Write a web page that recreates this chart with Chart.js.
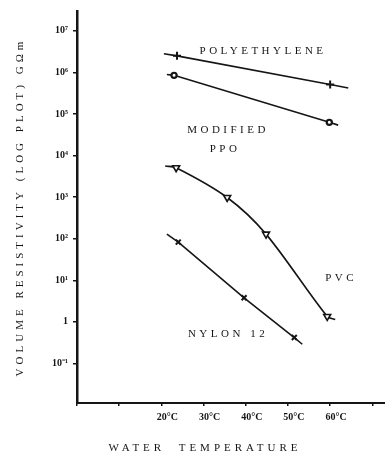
<!DOCTYPE html>
<html>
<head>
<meta charset="utf-8">
<script src="https://cdn.jsdelivr.net/npm/chart.js@4"></script>
<style>
  html, body { margin: 0; padding: 0; background: #fff; }
  #wrap { width: 385px; height: 454px; }
</style>
</head>
<body>
<div id="wrap"><canvas id="resistivity" width="385" height="454"></canvas></div>
<script>
// water temperature (deg C) and volume resistivity (G ohm m)
// first and last entries of each series are the line ends past the markers
const peTemps = [20.6, 23.7, 60.0, 64.3]
const peValues = [2.8e6, 2.5e6, 5.1e5, 4.2e5]

const ppoTemps = [21.3, 23.0, 59.8, 61.9]
const ppoValues = [8.9e5, 8.5e5, 6.3e4, 5.4e4]

const pvcTemps = [20.9, 23.5, 35.6, 44.8, 59.3, 61.2]
const pvcValues = [5600, 5100, 980, 129, 1.35, 1.14]

const nylonTemps = [21.3, 24.0, 39.6, 51.5, 53.4]
const nylonValues = [129, 83, 3.8, 0.42, 0.29]

const xTickValues = [20, 30, 40, 50, 60]
const xTickLabels = ['20°C', '30°C', '40°C', '50°C', '60°C']
const yTickValues = [0.1, 1, 10, 100, 1e3, 1e4, 1e5, 1e6, 1e7]
const yTickLabels = ['10⁻¹', '1', '10¹', '10²', '10³', '10⁴', '10⁵', '10⁶', '10⁷']

const seriesNames = ['POLYETHYLENE', 'MODIFIED', 'PPO', 'PVC', 'NYLON 12']
const nameTemps = [44.1, 35.8, 35.1, 62.6, 35.8]
const nameValues = [3.2e6, 4.1e4, 1.45e4, 11.5, 0.52]

const ink = '#151515'

const toPoints = (temps, values) => temps.map((t, i) => ({x: t, y: values[i]}))

const makeSet = (temps, values, style, size, opts) => {
    const last = temps.length - 1
    return Object.assign({
        data: toPoints(temps, values),
        showLine: true,
        borderColor: ink,
        borderWidth: 1.6,
        pointStyle: style,
        pointRadius: temps.map((t, i) => (i === 0 || i === last) ? 0 : size),
        pointBorderColor: ink,
        pointBackgroundColor: ink,
        pointBorderWidth: 2,
        tension: 0
    }, opts || {})
}

// axis titles and curve names, drawn spaced out like the typewritten original
const typedText = {
    id: 'typedText',
    afterDraw(chart) {
        const ctx = chart.ctx
        const xs = chart.scales.x
        const ys = chart.scales.y
        const area = chart.chartArea
        ctx.save()
        ctx.fillStyle = ink
        ctx.font = '11px "Liberation Serif"'
        ctx.letterSpacing = '3.5px'
        ctx.textAlign = 'center'
        ctx.textBaseline = 'middle'
        seriesNames.forEach((name, i) => {
            ctx.fillText(name, xs.getPixelForValue(nameTemps[i]), ys.getPixelForValue(nameValues[i]))
        })
        ctx.letterSpacing = '4px'
        ctx.fillText('WATER  TEMPERATURE', 205, 448)
        ctx.translate(20, (area.top + area.bottom) / 2)
        ctx.rotate(-Math.PI / 2)
        ctx.letterSpacing = '4px'
        ctx.fillText('VOLUME RESISTIVITY (LOG PLOT) GΩm', 0, 0)
        ctx.restore()
    }
}

const ctx = document.querySelector('#resistivity')
const resistivityChart = new Chart(ctx, {
    type: 'scatter',
    data: {
        datasets: [
            makeSet(peTemps, peValues, 'cross', 4),
            makeSet(ppoTemps, ppoValues, 'circle', 2.6, {pointBackgroundColor: '#fff', pointBorderWidth: 2.2}),
            makeSet(pvcTemps, pvcValues, 'triangle', 4, {
                pointRotation: 180,
                pointBackgroundColor: '#fff',
                pointBorderWidth: 1.6,
                tension: 0.3
            }),
            makeSet(nylonTemps, nylonValues, 'crossRot', 3.5)
        ]
    },
    options: {
        responsive: false,
        animation: false,
        layout: {padding: {top: 8, left: 0, right: 0, bottom: 0}},
        plugins: {
            legend: {display: false},
            tooltip: {enabled: false}
        },
        scales: {
            x: {
                type: 'linear',
                min: 0,
                max: 73,
                afterFit: scale => { scale.height = 51 },
                afterBuildTicks: scale => {
                    scale.ticks = [0, 10, 20, 30, 40, 50, 60, 70].map(v => ({value: v}))
                },
                ticks: {
                    color: ink,
                    font: {family: 'Liberation Serif', size: 10, weight: 'bold'},
                    padding: 5,
                    labelOffset: 6,
                    maxRotation: 0,
                    autoSkip: false,
                    callback: v => {
                        const i = xTickValues.indexOf(v)
                        return i >= 0 ? xTickLabels[i] : ''
                    }
                },
                grid: {drawOnChartArea: false, tickLength: 3, color: ink, lineWidth: 1.5},
                border: {color: ink, width: 2}
            },
            y: {
                type: 'logarithmic',
                min: 0.0112,
                max: 3.0e7,
                afterFit: scale => { scale.width = 77 },
                afterBuildTicks: scale => {
                    scale.ticks = yTickValues.map(v => ({value: v}))
                },
                ticks: {
                    color: ink,
                    font: {family: 'Liberation Serif', size: 10, weight: 'bold'},
                    padding: 5,
                    autoSkip: false,
                    callback: v => {
                        const i = yTickValues.indexOf(v)
                        return i >= 0 ? yTickLabels[i] : ''
                    }
                },
                grid: {drawOnChartArea: false, tickLength: 4, color: ink, lineWidth: 1.5},
                border: {color: ink, width: 2.5}
            }
        }
    },
    plugins: [typedText]
})
</script>
</body>
</html>
